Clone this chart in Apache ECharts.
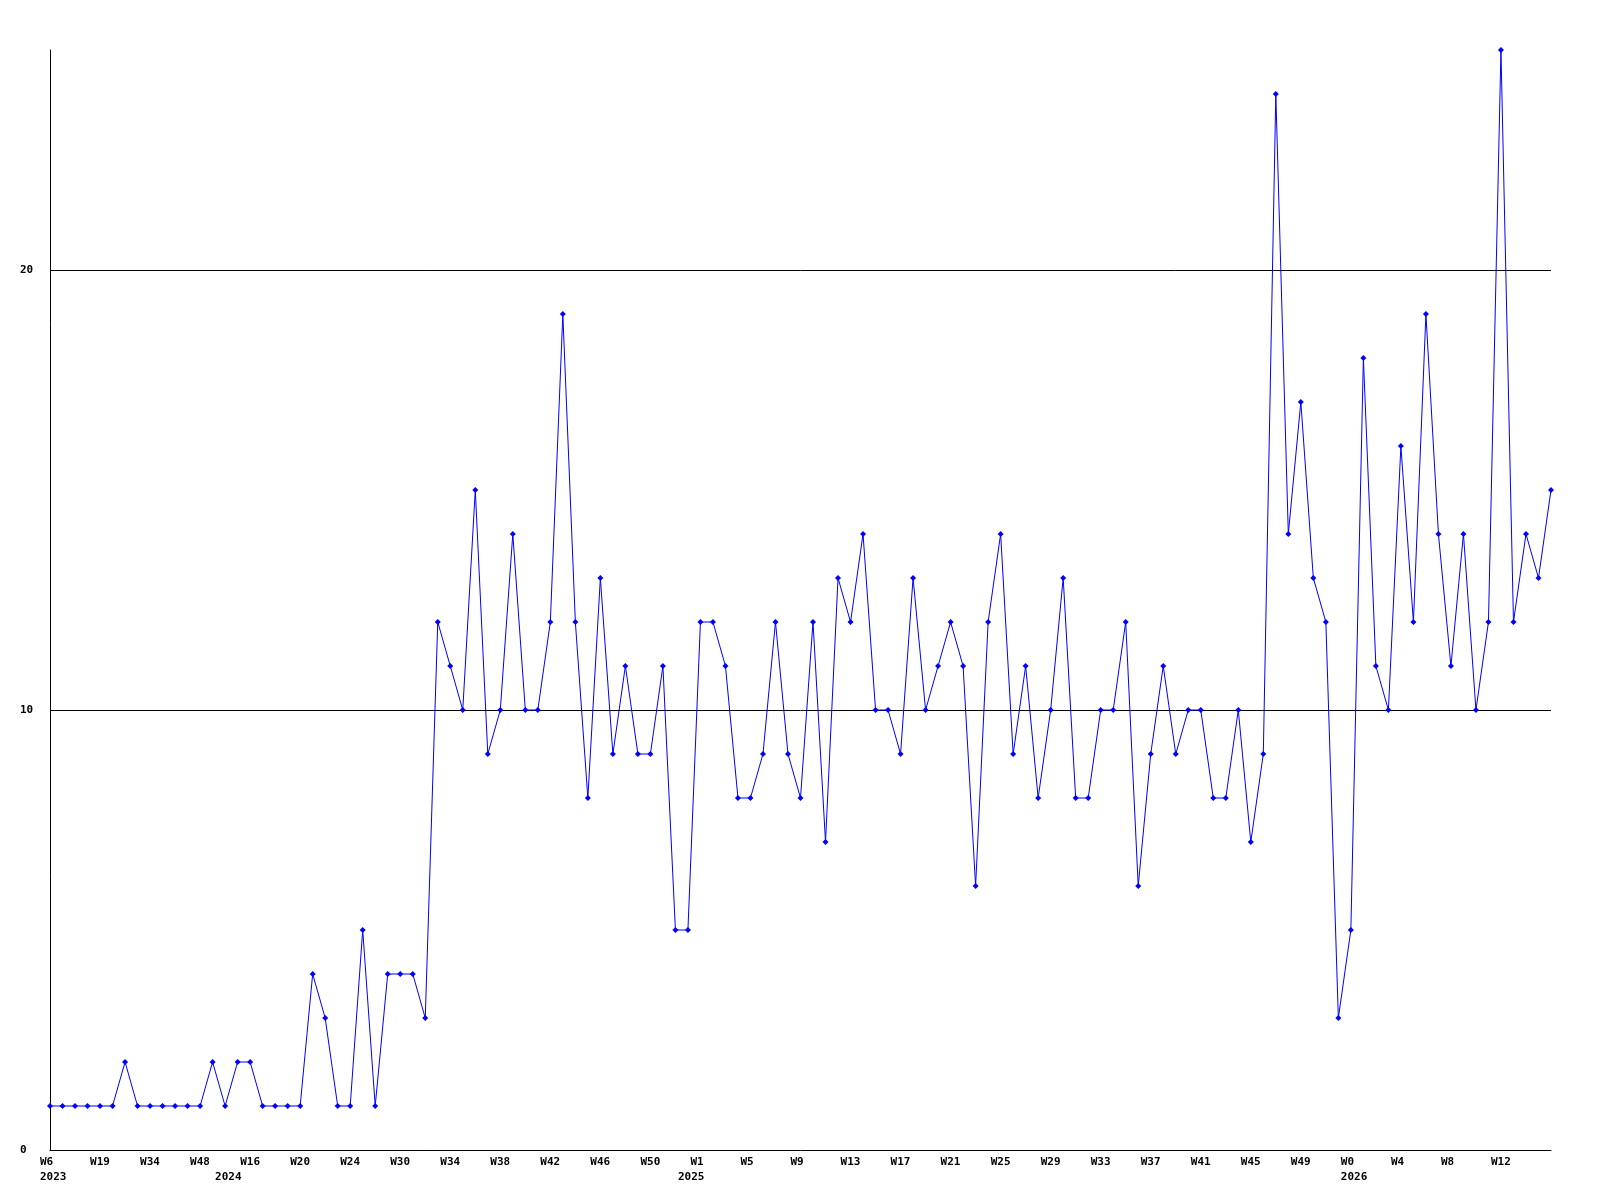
<!DOCTYPE html>
<html><head><meta charset="utf-8">
<script src="https://cdn.jsdelivr.net/npm/echarts@6/dist/echarts.min.js"></script>
<style>html,body{margin:0;padding:0;background:#fff}#c{width:1600px;height:1200px}</style>
</head><body><div id="c"></div>
<script>
// weekly values, one per point
const values = [
  1,1,1,1,1,1,2,1,1,1,
  1,1,1,2,1,2,2,1,1,1,
  1,4,3,1,1,5,1,4,4,4,
  3,12,11,10,15,9,10,14,10,10,
  12,19,12,8,13,9,11,9,9,11,
  5,5,12,12,11,8,8,9,12,9,
  8,12,7,13,12,14,10,10,9,13,
  10,11,12,11,6,12,14,9,11,8,
  10,13,8,8,10,10,12,6,9,11,
  9,10,10,8,8,10,7,9,24,14,
  17,13,12,3,5,18,11,10,16,12,
  19,14,11,14,10,12,25,12,14,13,15
];
// tick labels, one every 4 points
const weekLabels = ['W6','W19','W34','W48','W16','W20','W24','W30','W34','W38','W42','W46','W50',
  'W1','W5','W9','W13','W17','W21','W25','W29','W33','W37','W41','W45','W49','W0','W4','W8','W12'];
const weekLabelStep = 4;
const yearLabels = ['2023','2024','2025','2026'];
const yearLabelIndex = [0,14,51,104];

const cats = values.map((_, i) => String(i));
const FONT = 'DejaVu Sans Mono';

function xLabel(v, i) {
  const w = (i % weekLabelStep === 0 && weekLabels[i / weekLabelStep]) ? weekLabels[i / weekLabelStep] : '';
  const k = yearLabelIndex.indexOf(i);
  const y = k >= 0 ? yearLabels[k] : '';
  if (!w && !y) return '';
  return y ? (w + '\n' + y) : w;
}

const chart = echarts.init(document.getElementById('c'), null, {renderer: 'canvas'});
chart.setOption({
  animation: false,
  backgroundColor: '#fff',
  grid: [
    {left: 50, top: 50, width: 1501, height: 1100, containLabel: false},
    {left: 40, top: 50, width: 1501, height: 1100, containLabel: false}
  ],
  xAxis: [
    {type: 'category', gridIndex: 0, data: cats, boundaryGap: false,
     axisLine: {show: true, onZero: false, lineStyle: {color: '#000', width: 1}},
     axisTick: {show: false}, axisLabel: {show: false}, splitLine: {show: false}},
    {type: 'category', gridIndex: 1, data: cats, boundaryGap: false,
     axisLine: {show: false}, axisTick: {show: false}, splitLine: {show: false},
     axisLabel: {show: true, interval: 0, align: 'left', margin: 5, lineHeight: 15,
       fontFamily: FONT, fontWeight: 'bold', fontSize: 11, color: '#000',
       formatter: xLabel}}
  ],
  yAxis: [
    {type: 'value', gridIndex: 0, min: 0, max: 25, interval: 10,
     axisLine: {show: true, lineStyle: {color: '#000', width: 1}},
     axisTick: {show: false},
     splitLine: {show: true, showMinLine: false, showMaxLine: false, lineStyle: {color: '#000', width: 1}},
     axisLabel: {show: true, align: 'left', margin: 30, showMaxLabel: false,
       fontFamily: FONT, fontWeight: 'bold', fontSize: 11, color: '#000'}},
    {type: 'value', gridIndex: 1, min: 0, max: 25, show: false}
  ],
  series: [{
    type: 'line', xAxisIndex: 0, yAxisIndex: 0, data: values,
    color: '#0000ff',
    lineStyle: {color: '#0000ff', width: 1},
    itemStyle: {color: '#0000ff'},
    symbol: 'diamond', symbolSize: 6, showSymbol: true, showAllSymbol: true,
    clip: false, silent: true
  }]
});
</script>
</body></html>
